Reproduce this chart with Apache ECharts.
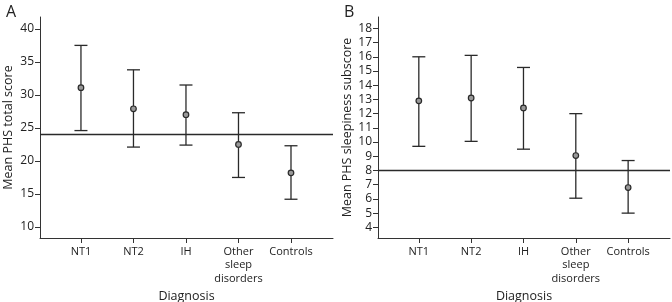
<!DOCTYPE html>
<html>
<head>
<meta charset="utf-8">
<script src="https://cdn.jsdelivr.net/npm/echarts@6/dist/echarts.min.js"></script>
<style>
  html, body { margin: 0; padding: 0; background: #fff; }
  #chart { width: 672px; height: 302px; }
</style>
</head>
<body>
<div id="chart"></div>
<script>
let categories = ['NT1', 'NT2', 'IH', 'Other\nsleep\ndisorders', 'Controls'];

// panel A: mean PHS total score with error bars
let totalMean = [31.1, 27.9, 27.0, 22.5, 18.2];
let totalLow = [24.6, 22.1, 22.4, 17.5, 14.2];
let totalHigh = [37.5, 33.8, 31.5, 27.3, 22.3];
let totalCutoff = 24;
let totalTicks = [10, 15, 20, 25, 30, 35, 40];

// panel B: mean PHS sleepiness subscore with error bars
let sleepMean = [12.9, 13.1, 12.4, 9.05, 6.8];
let sleepLow = [9.7, 10.05, 9.5, 6.05, 5.0];
let sleepHigh = [16.0, 16.1, 15.25, 12.0, 8.7];
let sleepCutoff = 8;
let sleepTicks = [4, 5, 6, 7, 8, 9, 10, 11, 12, 13, 14, 15, 16, 17, 18];

let catIdx = categories.map((c, i) => i);
let font = '"Open Sans", "Noto Sans", sans-serif';
let ink = '#222';

function errData(mean, low, high) {
	return mean.map((m, i) => [i, m, low[i], high[i]]);
}

function renderErr(params, api) {
	let x = api.value(0);
	let mid = api.coord([x, api.value(1)]);
	let lo = api.coord([x, api.value(2)]);
	let hi = api.coord([x, api.value(3)]);
	let half = 6.5;
	let st = { stroke: '#2a2a2a', lineWidth: 1.3 };
	return {
	    type: 'group',
	    children: [
	        { type: 'line', shape: { x1: lo[0], y1: lo[1], x2: hi[0], y2: hi[1] }, style: st },
	        { type: 'line', shape: { x1: hi[0] - half, y1: hi[1], x2: hi[0] + half, y2: hi[1] }, style: st },
	        { type: 'line', shape: { x1: lo[0] - half, y1: lo[1], x2: lo[0] + half, y2: lo[1] }, style: st },
	        { type: 'circle', shape: { cx: mid[0], cy: mid[1], r: 2.8 }, style: { fill: '#999', stroke: '#2a2a2a', lineWidth: 1.2 } }
	    ]
	};
}

function xAxisFor(gridIndex) {
	return {
	    type: 'value',
	    gridIndex: gridIndex,
	    min: -0.78,
	    max: 4.8,
	    name: 'Diagnosis',
	    nameLocation: 'middle',
	    nameGap: 50,
	    nameTextStyle: { fontFamily: font, fontSize: 12.5, color: ink },
	    axisLine: { onZero: false, lineStyle: { color: '#333', width: 1 } },
	    axisTick: { customValues: catIdx, length: 5, lineStyle: { color: '#333' } },
	    axisLabel: {
	        customValues: catIdx,
	        formatter: v => categories[Math.round(v)],
	        fontFamily: font, fontSize: 11, color: ink, lineHeight: 13.5, margin: 7
	    },
	    splitLine: { show: false }
	};
}

function yAxisFor(gridIndex, min, max, ticks, name) {
	return {
	    type: 'value',
	    gridIndex: gridIndex,
	    min: min,
	    max: max,
	    name: name,
	    nameLocation: 'middle',
	    nameGap: gridIndex === 0 ? 25 : 24,
	    nameTextStyle: { fontFamily: font, fontSize: 12.5, color: ink },
	    axisLine: { show: true, onZero: false, lineStyle: { color: '#333', width: 1 } },
	    axisTick: { show: true, customValues: ticks, length: 5, lineStyle: { color: '#333' } },
	    axisLabel: { customValues: ticks, fontFamily: font, fontSize: 12, color: ink, margin: 6 },
	    splitLine: { show: false }
	};
}

function cutoffLine(v) {
	return {
	    silent: true,
	    symbol: ['none', 'none'],
	    label: { show: false },
	    lineStyle: { color: '#2a2a2a', width: 1.3, type: 'solid' },
	    data: [{ yAxis: v }]
	};
}

let myChart = echarts.init(document.getElementById('chart'), null, { renderer: 'canvas' });

let option = {
    animation: false,
    backgroundColor: '#fff',
    title: [
        { text: 'A', left: 1, top: -1, textStyle: { fontFamily: font, fontSize: 16, fontWeight: 'normal', color: ink } },
        { text: 'B', left: 339, top: -1, textStyle: { fontFamily: font, fontSize: 16, fontWeight: 'normal', color: ink } }
    ],
    grid: [
        { left: 40, top: 17, right: 339, bottom: 64, outerBoundsMode: 'none' },
        { left: 378, top: 17, right: 2, bottom: 64, outerBoundsMode: 'none' }
    ],
    xAxis: [xAxisFor(0), xAxisFor(1)],
    yAxis: [
        yAxisFor(0, 8.33, 41.8, totalTicks, 'Mean PHS total score'),
        yAxisFor(1, 3.25, 18.8, sleepTicks, 'Mean PHS sleepiness subscore')
    ],
    series: [
        {
            type: 'custom',
            xAxisIndex: 0,
            yAxisIndex: 0,
            renderItem: renderErr,
            encode: { x: 0, y: [1, 2, 3] },
            data: errData(totalMean, totalLow, totalHigh),
            markLine: cutoffLine(totalCutoff),
            z: 3
        },
        {
            type: 'custom',
            xAxisIndex: 1,
            yAxisIndex: 1,
            renderItem: renderErr,
            encode: { x: 0, y: [1, 2, 3] },
            data: errData(sleepMean, sleepLow, sleepHigh),
            markLine: cutoffLine(sleepCutoff),
            z: 3
        }
    ]
};
myChart.setOption(option);
</script>
</body>
</html>
